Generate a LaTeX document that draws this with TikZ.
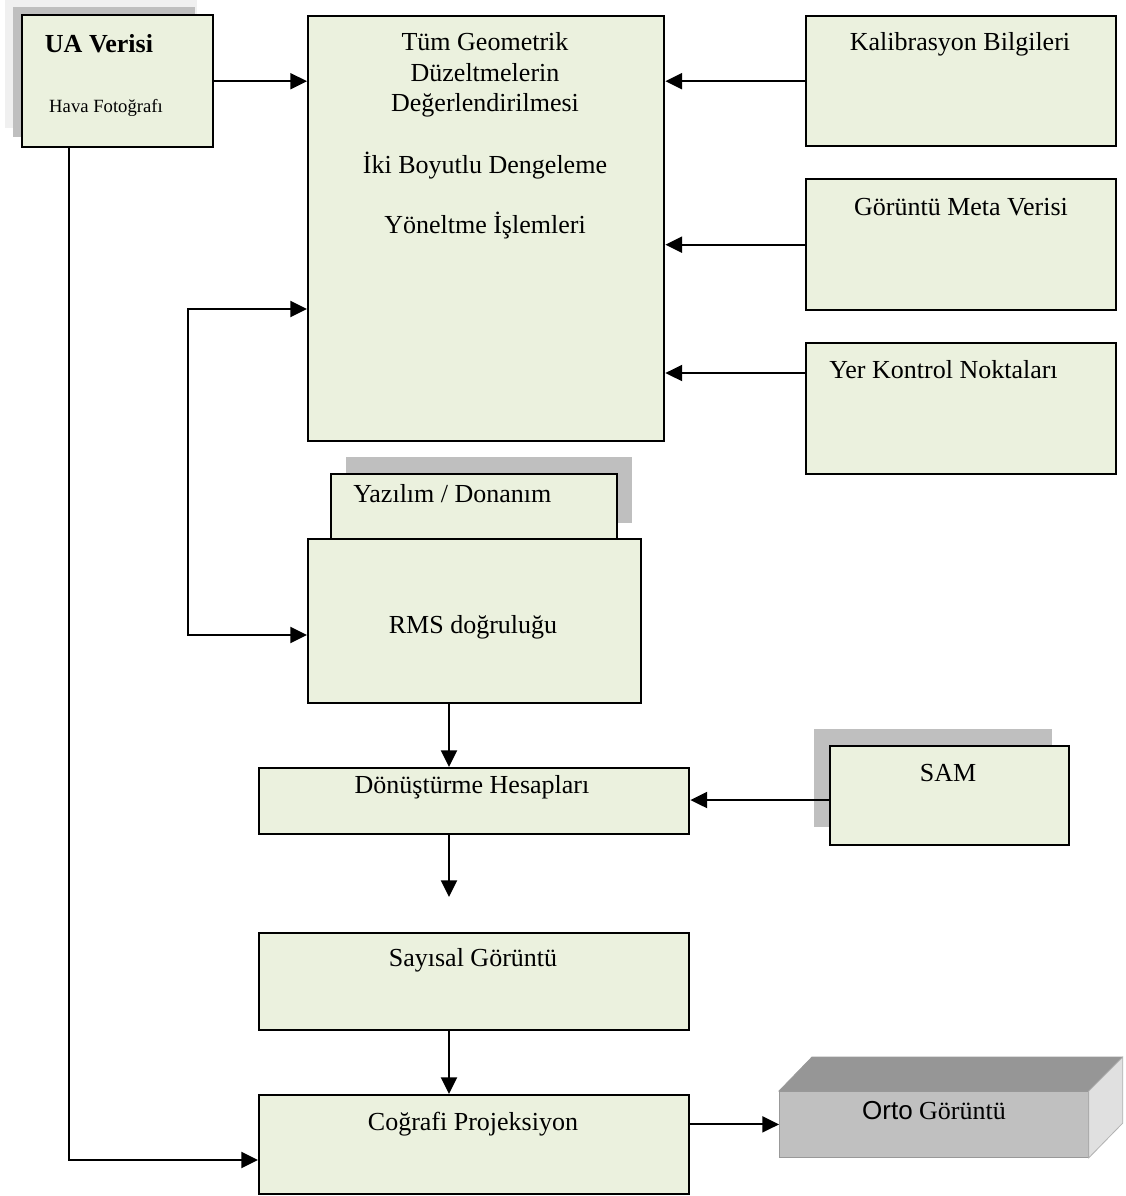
\documentclass[tikz,border=0pt]{standalone}
\usepackage{fontspec}
\setmainfont{Liberation Serif}
\newfontfamily\arialf{Liberation Sans}
\usetikzlibrary{arrows.meta,calc}
\definecolor{boxfill}{RGB}{235,241,222}
\definecolor{shadowgray}{RGB}{191,191,191}
\definecolor{shadowlight}{RGB}{240,240,240}
\definecolor{ortofront}{RGB}{192,192,192}
\definecolor{ortotop}{RGB}{150,150,150}
\definecolor{ortoside}{RGB}{224,224,224}
\def\px{0.75pt}
\begin{document}
\begin{tikzpicture}[x=0.75pt,y=-0.75pt,
  box/.style={draw=black,line width=1.8pt,fill=boxfill,rectangle,inner sep=0pt,anchor=north west},
  txt/.style={inner sep=0pt,anchor=base,font=\fontsize{19.5}{23}\selectfont},
  txtsmall/.style={inner sep=0pt,anchor=base,font=\fontsize{14}{17}\selectfont},
  arr/.style={line width=1.5pt,-{Triangle[length=12.5pt,width=12pt]}},
  arrboth/.style={line width=1.5pt,{Triangle[length=12.5pt,width=12pt]}-{Triangle[length=12.5pt,width=12pt]}}]
\useasboundingbox (0,0) rectangle (1125,1196);
\fill[white] (0,0) rectangle (1125,1196);

% shadows
\fill[shadowlight] (5,0) rectangle (197,128);
\fill[shadowgray] (13,7) rectangle (195,137);
\fill[shadowgray] (346,457) rectangle (632,523);
\fill[shadowgray] (814,729) rectangle (1052,827);

% boxes
\node[box,minimum width=191*\px,minimum height=132*\px] (ua) at (21,14) {};
\node[box,minimum width=356*\px,minimum height=425*\px] (big) at (307,15) {};
\node[box,minimum width=310*\px,minimum height=130*\px] (kal) at (805,15) {};
\node[box,minimum width=310*\px,minimum height=131*\px] (meta) at (805,178) {};
\node[box,minimum width=310*\px,minimum height=131*\px] (yer) at (805,342) {};
\node[box,minimum width=286*\px,minimum height=65*\px] (yaz) at (330,473) {};
\node[box,minimum width=333*\px,minimum height=164*\px] (rms) at (307,538) {};
\node[box,minimum width=430*\px,minimum height=66*\px] (don) at (258,767) {};
\node[box,minimum width=239*\px,minimum height=99*\px] (sam) at (829,745) {};
\node[box,minimum width=430*\px,minimum height=97*\px] (say) at (258,932) {};
\node[box,minimum width=430*\px,minimum height=99*\px] (cog) at (258,1094) {};

% Orto 3D box
\node[fill=ortofront,draw=gray!80,line width=0.6pt,rectangle,inner sep=0pt,anchor=north west,minimum width=309*\px,minimum height=66*\px] (orto) at (779,1091) {};
\fill[ortotop,draw=gray!80,line width=0.6pt] (orto.north west) -- ++(33,-34) -- ++(310,0) -- (orto.north east) -- cycle;
\fill[ortoside,draw=gray!60,line width=0.6pt] (orto.north east) -- ++(34,-34) -- ++(0,66) -- (orto.south east) -- cycle;

% texts
\node[txt,font=\fontsize{19.5}{23}\selectfont\bfseries] (uat) at (99,52) {UA Verisi};
\node[txtsmall] (uat2) at (106,112) {Hava Fotoğrafı};
\node[txt] (b1) at (485,50) {Tüm Geometrik};
\node[txt] (b2) at (485,81) {Düzeltmelerin};
\node[txt] (b3) at (485,111) {Değerlendirilmesi};
\node[txt] (b4) at (485,173) {İki Boyutlu Dengeleme};
\node[txt] (b5) at (485,233) {Yöneltme İşlemleri};
\node[txt] (kalt) at (960,50) {Kalibrasyon Bilgileri};
\node[txt] (metat) at (961,215) {Görüntü Meta Verisi};
\node[txt,anchor=base west] (yert) at (829,378) {Yer Kontrol Noktaları};
\node[txt,anchor=base west] (yazt) at (353,502) {Yazılım / Donanım};
\node[txt] (rmst) at (473,633) {RMS doğruluğu};
\node[txt] (dont) at (472,793) {Dönüştürme Hesapları};
\node[txt] (samt) at (948,781) {SAM};
\node[txt] (sayt) at (473,966) {Sayısal Görüntü};
\node[txt] (cogt) at (473,1130) {Coğrafi Projeksiyon};
\node[txt] (ortot) at (934,1119) {{\arialf Orto} Görüntü};

% helper coordinates
\coordinate (colx) at (449,0);
\coordinate (free) at (449,897);
\coordinate (samy) at (0,800);
\coordinate (yery) at (0,373);
\coordinate (loopx) at (188,309);
\coordinate (rmsy) at (188,635);
\coordinate (uay) at (69,1160);

% connectors
\draw[arr] (ua.east) -- (ua.east -| big.west);
\draw[arr] (kal.west) -- (kal.west -| big.east);
\draw[arr] (meta.west) -- (meta.west -| big.east);
\draw[arr] (yer.west |- yery) -- (yery -| big.east);
\draw[arrboth] (loopx -| big.west) -- (loopx) -- (rmsy) -- (rmsy -| rms.west);
\draw[arr] (rms.south -| colx) -- (don.north -| colx);
\draw[arr] (don.south -| colx) -- (free);
\draw[arr] (sam.west |- samy) -- (samy -| don.east);
\draw[arr] (say.south -| colx) -- (cog.north -| colx);
\draw[arr] (ua.south -| uay) -- (uay) -- (uay -| cog.west);
\draw[arr] (cog.east |- orto.west) -- (orto.west);
\end{tikzpicture}
\end{document}
